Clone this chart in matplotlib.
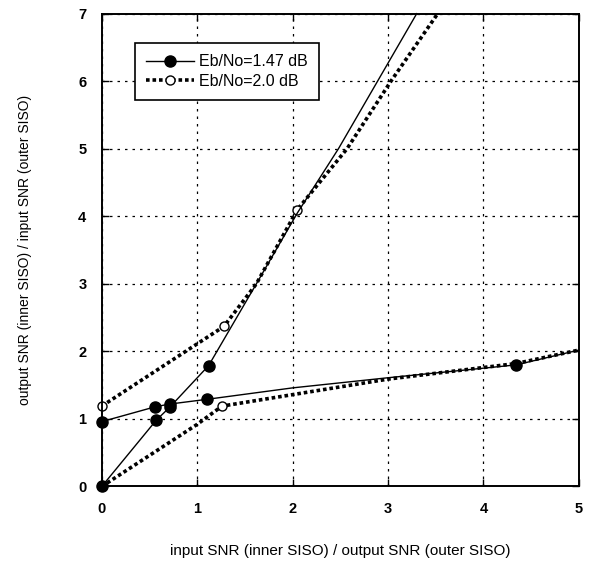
import numpy as np
import matplotlib
matplotlib.use("Agg")
import matplotlib.pyplot as plt

plt.rcParams['font.family'] = ['Liberation Sans', 'DejaVu Sans']

# Eb/No = 1.47 dB : inner SISO curve and outer SISO curve (solid)
inner147_x = [0.0, 0.56, 0.71, 1.10, 2.0, 3.0, 4.34, 5.0]
inner147_y = [0.96, 1.18, 1.22, 1.29, 1.46, 1.61, 1.80, 2.02]
inner147_marks = [0, 1, 2, 3, 6]
outer147_x = [0.0, 0.57, 0.71, 1.12, 1.62, 2.05, 2.48, 2.89, 3.30]
outer147_y = [0.0, 0.98, 1.17, 1.79, 3.0, 4.05, 5.0, 6.0, 7.0]
outer147_marks = [0, 1, 2, 3]

# Eb/No = 2.0 dB : inner SISO curve and outer SISO curve (dotted)
inner20_x = [0.0, 1.28, 1.62, 2.05, 2.57, 3.03, 3.52]
inner20_y = [1.19, 2.37, 3.0, 4.1, 5.0, 6.0, 7.0]
inner20_marks = [0, 1, 3]
outer20_x = [0.0, 1.0, 1.26, 2.0, 3.0, 4.34, 5.0]
outer20_y = [0.0, 0.92, 1.19, 1.36, 1.59, 1.82, 2.02]
outer20_marks = [0, 2]

xticks = [0, 1, 2, 3, 4, 5]
yticks = [0, 1, 2, 3, 4, 5, 6, 7]

fig = plt.figure(figsize=(5.95, 5.69), dpi=100)
ax = fig.add_axes([0.171, 0.145, 0.802, 0.831])

ax.plot(inner147_x, inner147_y, color='black', linewidth=1.0, marker='o',
        markersize=8, markerfacecolor='black', markevery=inner147_marks,
        label='Eb/No=1.47 dB', clip_on=False, zorder=3)
ax.plot(outer147_x, outer147_y, color='black', linewidth=1.0, marker='o',
        markersize=8, markerfacecolor='black', markevery=outer147_marks,
        clip_on=False, zorder=3)
ax.plot(inner20_x, inner20_y, color='black', linewidth=2.6, linestyle=(0, (1, 0.8)),
        marker='o', markersize=6.5, markerfacecolor='white', markeredgewidth=1.0,
        markevery=inner20_marks, label='Eb/No=2.0 dB', clip_on=False, zorder=2)
ax.plot(outer20_x, outer20_y, color='black', linewidth=2.6, linestyle=(0, (1, 0.8)),
        marker='o', markersize=6.5, markerfacecolor='white', markeredgewidth=1.0,
        markevery=outer20_marks, clip_on=False, zorder=2)

ax.set_xlim(0, 5)
ax.set_ylim(0, 7)
ax.set_xticks(xticks)
ax.set_yticks(yticks)
ax.grid(True, color='black', linestyle=(0, (2, 4)), linewidth=0.9)
ax.tick_params(direction='in', top=True, right=True, length=5, width=1.0, pad=11)
for lab in ax.get_xticklabels() + ax.get_yticklabels():
    lab.set_fontweight('bold')
    lab.set_fontsize(10.5)
for s in ax.spines.values():
    s.set_linewidth(1.4)

ax.set_xlabel("input SNR (inner SISO) / output SNR (outer SISO)", fontsize=11, labelpad=20)
ax.set_ylabel("output SNR (inner SISO) / input SNR (outer SISO)", fontsize=10, labelpad=33)

leg = ax.legend(loc='upper left', bbox_to_anchor=(0.07, 0.938), borderaxespad=0,
                fontsize=11.5, fancybox=False, edgecolor='black', framealpha=1,
                handlelength=3.0, borderpad=0.7, handletextpad=0.3, labelspacing=0.3)
leg.get_frame().set_linewidth(1.2)

plt.savefig("out.png", dpi=100)
